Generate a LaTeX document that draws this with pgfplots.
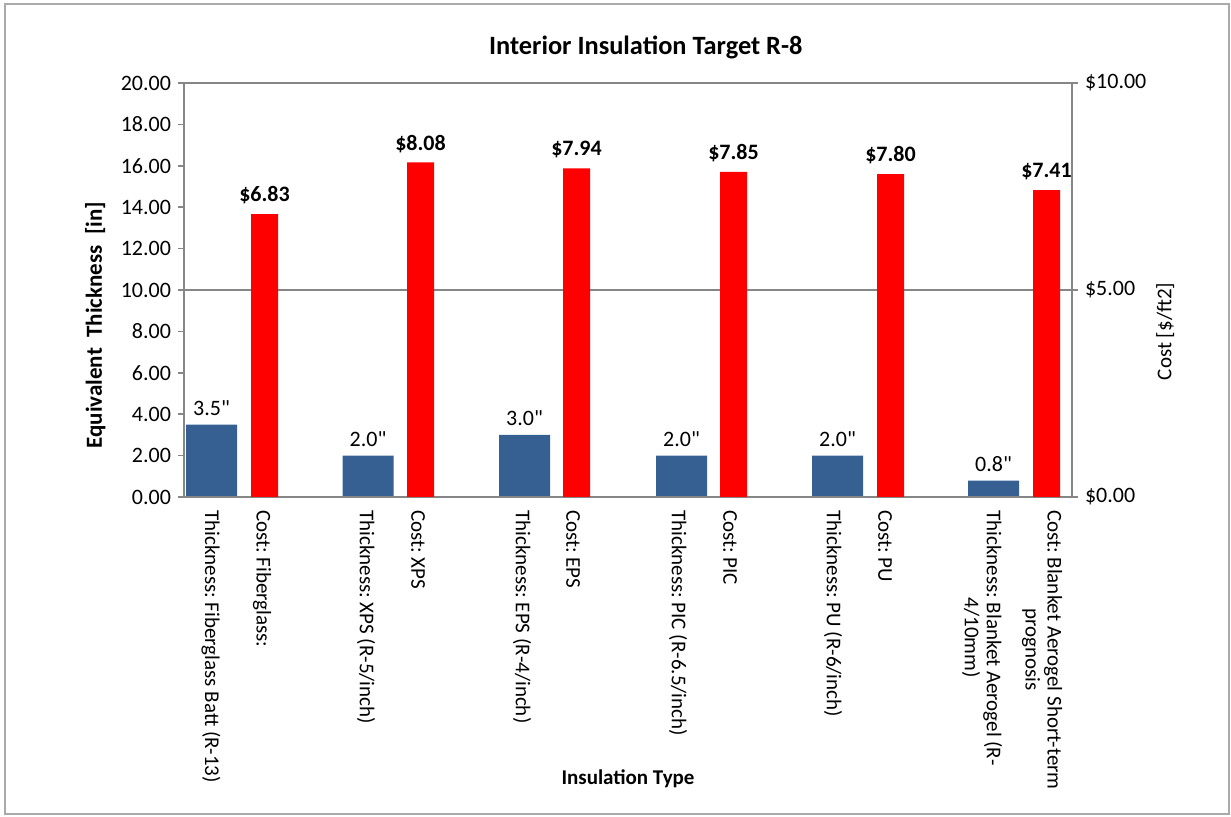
\documentclass[border=0pt]{standalone}
\usepackage{fontspec}
\setmainfont{Carlito}[Ligatures=TeXOff]
\usepackage{pgfplots}
\pgfplotsset{compat=1.18}
\definecolor{barblue}{RGB}{55,96,146}
\definecolor{axgray}{RGB}{134,134,134}
\definecolor{framegray}{RGB}{170,170,170}
\frenchspacing
\begin{document}
\begin{tikzpicture}[x=0.5pt,y=0.5pt]
\path[use as bounding box] (0,0) rectangle (1231,817);
\draw[framegray,line width=1pt] (5,2.5) rectangle (1228.5,813);
\pgfplotsset{
  common/.style={
    at={(92pt,160pt)}, anchor=south west, scale only axis,
    width=444pt, height=207pt,
    xmin=184, xmax=1072,
    /pgf/number format/assume math mode=true,
    ticklabel style={font=\fontsize{11}{13}\selectfont, text=black},
    tick align=outside, major tick length=3pt,
    axis line style={axgray, line width=0.8pt},
    every tick/.style={axgray, line width=0.8pt},
    ybar, bar shift=0pt,
  }
}
\begin{axis}[common,
  axis y line*=left, axis x line*=bottom,
  ymin=0, ymax=20, ytick={0,2,...,20},
  yticklabel style={/pgf/number format/.cd, fixed, fixed zerofill, precision=2},
  xtick={217,268,372,424,528,579,684,736,839,891,988,1048},
  xticklabels={{Thickness: Fiberglass Batt (R-13)},{Cost: Fiberglass:},
    {Thickness: XPS (R-5/inch)},{Cost: XPS},
    {Thickness: EPS (R-4/inch)},{Cost: EPS},
    {Thickness: PIC (R-6.5/inch)},{Cost: PIC},
    {Thickness: PU (R-6/inch)},{Cost: PU},
    {Thickness: Blanket Aerogel (R-\\4/10mm)},{Cost: Blanket Aerogel Short-term\\prognosis}},
  xticklabel style={rotate=-90, anchor=west, align=center, font=\fontsize{10.5}{11}\selectfont, yshift=-3pt},
  xtick style={draw=none},
  ylabel={Equivalent\ \ Thickness\ \ [in]},
  ylabel style={at={(axis description cs:-0.1,0.415)}, anchor=center, font=\bfseries\fontsize{11.5}{14}\selectfont},
  xlabel={Insulation Type},
  xlabel style={at={(axis description cs:0.5,-0.681)}, anchor=center, font=\bfseries\fontsize{10.5}{12}\selectfont},
  title={Interior Insulation Target R-8},
  title style={at={(axis description cs:0.52,1.056)}, anchor=center, font=\bfseries\fontsize{13.2}{15}\selectfont},
  bar width=25.5pt,
  nodes near coords={\pgfmathprintnumber[fixed,fixed zerofill,precision=1]{\pgfplotspointmeta}"},
  every node near coord/.append style={font=\fontsize{11}{13}\selectfont, text=black, yshift=1pt},
]
\addplot[fill=barblue, draw=none] coordinates {(211.5,3.5) (368,2.0) (524.5,3.0) (681.5,2.0) (837.5,2.0) (993.5,0.79)};
\end{axis}
\begin{axis}[common,
  axis y line*=right, axis x line=none, xtick=\empty,
  ymin=0, ymax=10, ytick={0,5,10},
  yticklabel={\$\pgfmathprintnumber[fixed,fixed zerofill,precision=2]{\tick}},
  ymajorgrids, major grid style={axgray, line width=0.8pt},
  ylabel={Cost [\$/ft2]},
  ylabel style={at={(axis description cs:1.105,0.40)}, anchor=center, font=\fontsize{10.5}{12}\selectfont},
  bar width=13.5pt,
  nodes near coords={\textbf{\$\pgfmathprintnumber[fixed,fixed zerofill,precision=2]{\pgfplotspointmeta}}},
  every node near coord/.append style={font=\fontsize{11}{13}\selectfont, text=black, yshift=1.5pt},
]
\addplot[fill=red, draw=none] coordinates {(264.5,6.83) (420.5,8.08) (576.5,7.94) (733.5,7.85) (890.5,7.80) (1046.5,7.41)};
\end{axis}
\end{tikzpicture}
\end{document}
